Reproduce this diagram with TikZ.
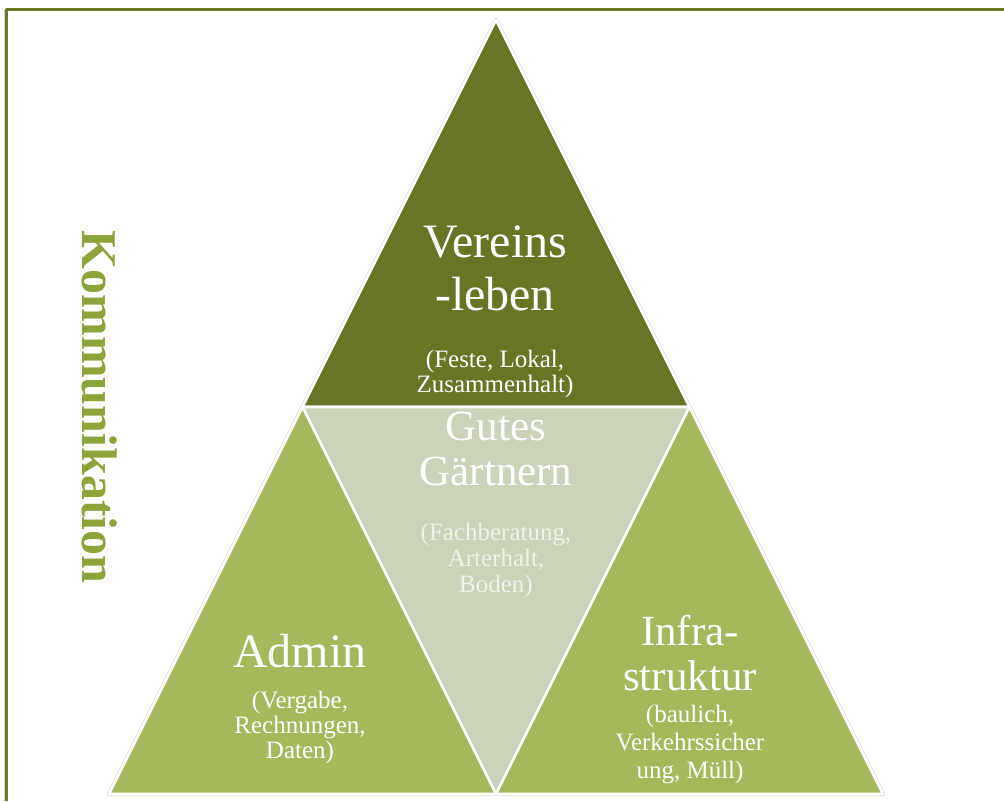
\documentclass[tikz,border=0pt]{standalone}
\usepackage{fontspec}
\setmainfont{Liberation Serif}
\definecolor{frameol}{HTML}{6B7A27}
\definecolor{darkol}{HTML}{687524}
\definecolor{lightgr}{HTML}{A3B95B}
\definecolor{grayol}{HTML}{CCD3BB}
\definecolor{kommcol}{HTML}{8DA43A}
\tikzset{
  tri/.style={draw=white, line width=2.6pt, line join=round},
  title/.style={anchor=base, text=white, inner sep=0pt, font=\fontsize{48}{48}\selectfont},
  titlesm/.style={anchor=base, text=white, inner sep=0pt, font=\fontsize{43}{43}\selectfont},
  sub/.style={anchor=base, text=white, inner sep=0pt, font=\fontsize{25}{25}\selectfont},
  subfaint/.style={sub, text=white!72!grayol},
}
\begin{document}
\begin{tikzpicture}[x=1pt,y=-1pt]
\useasboundingbox (0,0) rectangle (1004,801);
\fill[white] (0,0) rectangle (1004,801);
% frame
\draw[black!18, line width=1pt] (4.0,10) -- (4.0,801);
\draw[frameol, line width=3pt] (5.5,9) -- (1004,9);
\draw[frameol, line width=3pt] (6.8,9) -- (6.8,801);
% corner points
\coordinate (A) at (496,20);
\coordinate (L) at (109,794);
\coordinate (R) at (883,794);
\coordinate (ML) at (302.5,407);
\coordinate (MR) at (689.5,407);
\coordinate (MB) at (496,794);
% outer faint outline
\draw[black!12, line width=4.2pt, line join=round] (A) -- (L) -- (R) -- cycle;
% triangles
\fill[white] (A) -- (L) -- (R) -- cycle;
\draw[tri, fill=darkol] (A) -- (ML) -- (MR) -- cycle;
\draw[tri, fill=grayol] (ML) -- (MR) -- (MB) -- cycle;
\draw[tri, fill=lightgr] (ML) -- (L) -- (MB) -- cycle;
\draw[tri, fill=lightgr] (MR) -- (MB) -- (R) -- cycle;
% top
\node[title] (v1) at (495,257) {Vereins};
\node[title] (v2) at (495,310) {-leben};
\node[sub] (v3) at (495,367) {(Feste, Lokal,};
\node[sub] (v4) at (495,392) {Zusammenhalt)};
% middle
\node[titlesm] (g1) at (496,440) {Gutes};
\node[titlesm] (g2) at (496,485) {Gärtnern};
\node[subfaint] (g3) at (496,540) {(Fachberatung,};
\node[subfaint] (g4) at (496,566) {Arterhalt,};
\node[subfaint] (g5) at (496,592) {Boden)};
% left
\node[title] (a1) at (300,667) {Admin};
\node[sub] (a2) at (300,708) {(Vergabe,};
\node[sub] (a3) at (300,733) {Rechnungen,};
\node[sub] (a4) at (300,758) {Daten)};
% right
\node[titlesm] (i1) at (690,645) {Infra-};
\node[titlesm] (i2) at (690,690) {struktur};
\node[sub] (i3) at (690,722) {(baulich,};
\node[sub] (i4) at (690,750) {Verkehrssicher};
\node[sub] (i5) at (690,778) {ung, Müll)};
% side label
\node[rotate=-90, text=kommcol, inner sep=0pt, font=\fontsize{50}{50}\selectfont\bfseries] (komm) at (100,407) {Kommunikation};
\end{tikzpicture}
\end{document}
